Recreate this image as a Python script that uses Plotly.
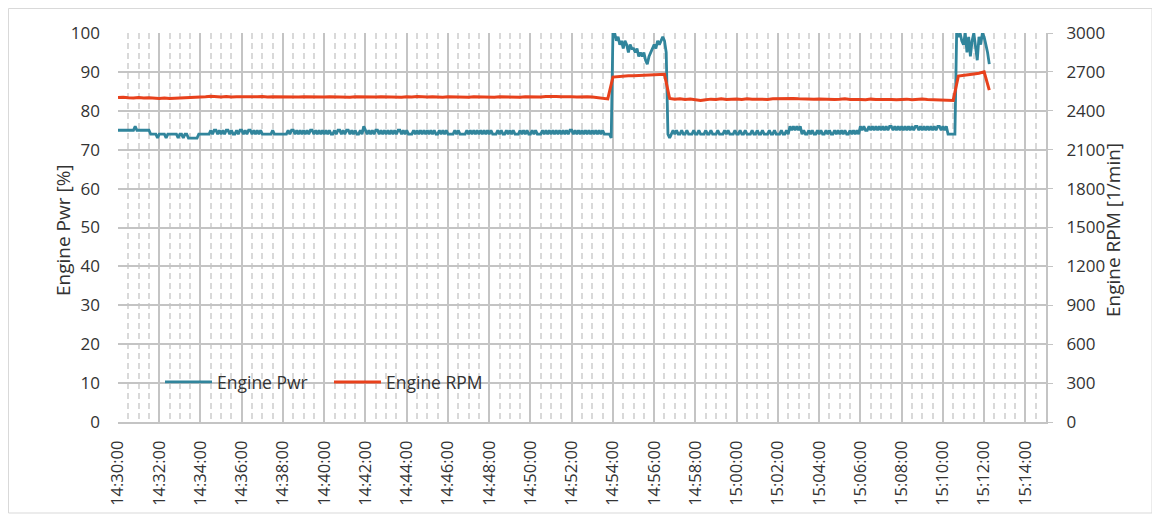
import pandas as pd
import plotly.graph_objects as go

# Engine power [%], one row per minute, sampled every 5 s from 14:30:00
pwr = [
    75, 75, 75, 75, 75, 75, 75, 75, 75, 75, 76, 75,   # 14:30
    75, 75, 75, 75, 75, 75, 75, 74, 74, 74, 74, 73,   # 14:31
    74, 74, 74, 74, 73, 74, 74, 74, 74, 74, 74, 73,   # 14:32
    74, 74, 73, 74, 74, 73, 73, 73, 73, 73, 73, 74,   # 14:33
    74, 74, 74, 74, 74, 74, 75, 74, 75, 75, 74, 75,   # 14:34
    74, 75, 74, 75, 75, 74, 75, 74, 74, 75, 74, 75,   # 14:35
    75, 74, 75, 74, 75, 75, 74, 75, 74, 75, 74, 75,   # 14:36
    74, 74, 74, 74, 74, 74, 75, 74, 74, 74, 74, 74,   # 14:37
    74, 74, 74, 75, 74, 75, 75, 74, 75, 74, 75, 74,   # 14:38
    75, 74, 75, 74, 75, 75, 74, 75, 74, 75, 74, 75,   # 14:39
    74, 75, 74, 75, 74, 74, 75, 74, 75, 75, 74, 75,   # 14:40
    74, 75, 75, 74, 75, 74, 75, 74, 74, 75, 74, 76,   # 14:41
    75, 74, 75, 74, 75, 74, 75, 75, 74, 75, 74, 75,   # 14:42
    74, 75, 74, 75, 74, 75, 74, 75, 75, 74, 75, 74,   # 14:43
    75, 74, 74, 74, 75, 74, 75, 74, 75, 74, 75, 74,   # 14:44
    75, 74, 75, 74, 75, 74, 74, 75, 74, 75, 74, 75,   # 14:45
    74, 74, 74, 74, 75, 74, 75, 74, 74, 74, 74, 75,   # 14:46
    74, 75, 74, 75, 74, 75, 74, 75, 74, 75, 74, 75,   # 14:47
    74, 75, 74, 74, 74, 75, 74, 75, 74, 74, 75, 74,   # 14:48
    75, 74, 75, 74, 74, 74, 75, 74, 75, 74, 75, 74,   # 14:49
    74, 75, 74, 75, 74, 74, 74, 75, 74, 75, 74, 75,   # 14:50
    74, 75, 74, 75, 74, 75, 74, 75, 74, 75, 74, 75,   # 14:51
    75, 74, 75, 74, 75, 74, 75, 74, 75, 74, 75, 74,   # 14:52
    75, 74, 75, 74, 75, 74, 75, 74, 74, 74, 74, 73,   # 14:53
    100, 100, 98, 99, 97, 98, 96, 98, 97, 95, 97, 96, # 14:54
    96, 95, 96, 94, 95, 94, 95, 93, 92, 94, 95, 96,   # 14:55
    97, 96, 98, 97, 98, 99, 98, 95, 74, 73, 74, 75,   # 14:56
    74, 75, 74, 74, 75, 74, 74, 75, 74, 74, 74, 75,   # 14:57
    74, 74, 75, 74, 74, 74, 75, 74, 74, 75, 74, 74,   # 14:58
    74, 75, 74, 74, 74, 75, 74, 75, 74, 74, 74, 75,   # 14:59
    74, 74, 75, 74, 74, 75, 74, 74, 74, 75, 74, 74,   # 15:00
    75, 74, 74, 75, 74, 74, 74, 75, 74, 74, 75, 74,   # 15:01
    74, 74, 75, 74, 74, 75, 74, 76, 75, 76, 75, 76,   # 15:02
    75, 76, 74, 75, 74, 74, 75, 74, 75, 74, 74, 75,   # 15:03
    74, 75, 74, 74, 75, 74, 75, 74, 74, 75, 74, 75,   # 15:04
    74, 75, 74, 75, 74, 74, 75, 74, 75, 74, 75, 74,   # 15:05
    76, 75, 76, 75, 75, 76, 75, 76, 75, 76, 75, 76,   # 15:06
    75, 76, 75, 76, 75, 76, 76, 75, 76, 75, 76, 75,   # 15:07
    76, 75, 76, 75, 76, 75, 76, 75, 76, 76, 75, 76,   # 15:08
    75, 76, 75, 76, 75, 76, 75, 76, 75, 76, 76, 75,   # 15:09
    76, 75, 76, 74, 74, 74, 74, 74, 100, 99, 100, 98, # 15:10
    97, 100, 95, 99, 94, 98, 100, 96, 93, 99, 97, 100, # 15:11
    99, 97, 95, 92,                                   # 15:12
]

# Engine speed [1/min], sampled every 15 s from 14:30:00
rpm = [
    2502, 2505, 2500, 2498,  2503, 2499, 2501, 2497,  2495, 2498, 2494, 2497,
    2499, 2496, 2500, 2503,  2505, 2508, 2512, 2509,  2507, 2510, 2506, 2509,
    2508, 2511, 2507, 2509,  2510, 2506, 2509, 2508,  2507, 2511, 2508, 2506,
    2509, 2507, 2510, 2508,  2506, 2509, 2507, 2510,  2508, 2505, 2509, 2507,
    2510, 2508, 2506, 2509,  2507, 2510, 2508, 2505,  2509, 2507, 2511, 2508,
    2506, 2509, 2507, 2504,  2508, 2506, 2509, 2507,  2505, 2508, 2506, 2509,
    2507, 2504, 2508, 2506,  2509, 2507, 2505, 2508,  2506, 2509, 2507, 2510,
    2512, 2510, 2508, 2511,  2509, 2507, 2510, 2508,  2506, 2503, 2495, 2492,
    2660, 2665, 2667, 2670,  2671, 2673, 2675, 2676,  2678, 2680, 2681, 2495,
    2490, 2493, 2488, 2491,  2485, 2479, 2486, 2490,  2488, 2492, 2487, 2490,
    2491, 2488, 2492, 2489,  2487, 2490, 2488, 2492,  2494, 2496, 2493, 2495,
    2492, 2490, 2493, 2489,  2491, 2488, 2490, 2487,  2489, 2492, 2488, 2490,
    2488, 2486, 2490, 2487,  2489, 2486, 2488, 2485,  2487, 2490, 2486, 2488,
    2491, 2487, 2485, 2483,  2482, 2478, 2480, 2668,  2672, 2678, 2684, 2690,
    2700, 2560,
]

START = "2024-01-01 14:30:00"
pwr_times = pd.date_range(START, periods=len(pwr), freq="5s")
rpm_times = pd.date_range(START, periods=len(rpm), freq="15s")

x_range = ["2024-01-01 14:30:00", "2024-01-01 15:15:00"]
pwr_ticks = list(range(0, 101, 10))
rpm_ticks = list(range(0, 3001, 300))

FONT = "Open Sans"
TXT = "#333333"
GRID = "#C4C4C4"
MINOR = "#D9D9D9"

fig = go.Figure()
fig.add_trace(go.Scatter(x=pwr_times, y=pwr, name="Engine Pwr", mode="lines",
                         line=dict(color="#31859C", width=2.8), yaxis="y"))
fig.add_trace(go.Scatter(x=rpm_times, y=rpm, name="Engine RPM", mode="lines",
                         line=dict(color="#E8411C", width=3), yaxis="y2"))

# page has an 8px body margin; figure is sized to fit the window
OFF = 8
W, H = 1152, 512
L, R, T, B = 110, 114, 25, 98
pw, ph = W - L - R, H - T - B


def px(xs):
    return (xs - OFF - L) / pw


def py(ys):
    return (H - B - (ys - OFF)) / ph


fig.update_layout(
    width=W, height=H,
    margin=dict(l=L, r=R, t=T, b=B),
    paper_bgcolor="white", plot_bgcolor="white",
    font=dict(family=FONT, size=17, color=TXT),
    xaxis=dict(
        type="date", range=x_range, tick0=START, dtick=120000,
        tickformat="%H:%M:%S", tickangle=-90, ticks="", ticklabelstandoff=10,
        showgrid=True, gridcolor=GRID, gridwidth=2,
        minor=dict(dtick=30000, showgrid=True, gridcolor=MINOR,
                   griddash="6px,4px", gridwidth=1.5),
        showline=True, linecolor=GRID, linewidth=2, zeroline=False,
        tickfont=dict(size=16.5, color=TXT),
    ),
    yaxis=dict(
        range=[0, 100], tickvals=pwr_ticks, showgrid=True, gridcolor=GRID, gridwidth=2,
        zeroline=False, showline=False, ticks="", ticklabelstandoff=17,
        tickfont=dict(size=17, color=TXT),
    ),
    yaxis2=dict(
        range=[0, 3000], tickvals=rpm_ticks, overlaying="y", side="right",
        showgrid=False, zeroline=False, showline=True, linecolor=GRID, linewidth=2,
        ticks="outside", ticklen=5, tickcolor=GRID, ticklabelstandoff=10,
        tickfont=dict(size=17, color=TXT),
    ),
    showlegend=True,
    legend=dict(
        orientation="h", x=px(160), xanchor="left", y=py(382), yanchor="middle",
        bgcolor="rgba(0,0,0,0)", font=dict(size=17.5, color=TXT),
        itemwidth=47, entrywidth=107, entrywidthmode="pixels",
    ),
    shapes=[
        dict(type="rect", xref="paper", yref="paper",
             x0=px(135), x1=px(511), y0=py(400), y1=py(363),
             fillcolor="white", line=dict(width=0), layer="between"),
        dict(type="rect", xref="paper", yref="paper",
             x0=px(8.5), x1=px(1152), y0=py(513), y1=py(8.5),
             line=dict(color="#D9D9D9", width=1), fillcolor="rgba(0,0,0,0)", layer="below"),
    ],
    annotations=[
        dict(text="Engine Pwr [%]", xref="paper", yref="paper", x=px(48), y=py(230),
             textangle=-90, showarrow=False, font=dict(size=19, color=TXT)),
        dict(text="Engine RPM [1/min]", xref="paper", yref="paper", x=px(1128), y=py(230),
             textangle=-90, showarrow=False, font=dict(size=19, color=TXT)),
    ],
)

fig.write_html("out.html")
